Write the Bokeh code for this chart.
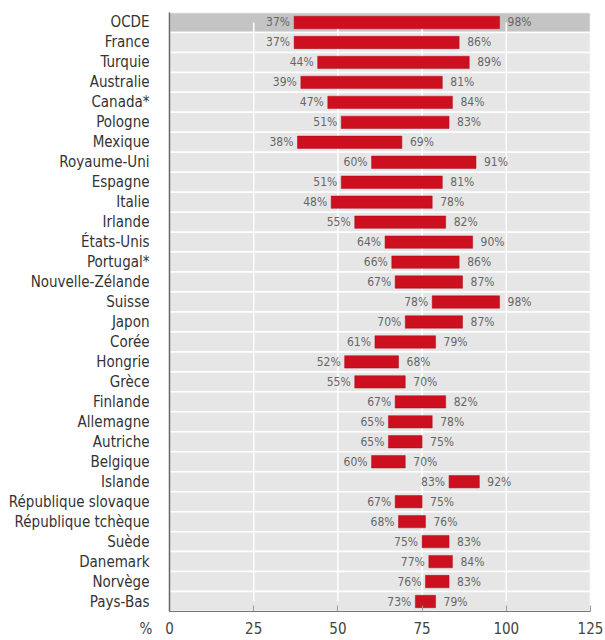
from bokeh.plotting import figure
from bokeh.models import FactorRange, Range1d, FixedTicker, ColumnDataSource
from bokeh.core.properties import value
from bokeh.embed import file_html
from bokeh.resources import INLINE

countries = ["OCDE", "France", "Turquie", "Australie", "Canada*", "Pologne", "Mexique",
             "Royaume-Uni", "Espagne", "Italie", "Irlande", "États-Unis", "Portugal*",
             "Nouvelle-Zélande", "Suisse", "Japon", "Corée", "Hongrie", "Grèce", "Finlande",
             "Allemagne", "Autriche", "Belgique", "Islande", "République slovaque",
             "République tchèque", "Suède", "Danemark", "Norvège", "Pays-Bas"]
low = [37, 37, 44, 39, 47, 51, 38, 60, 51, 48, 55, 64, 66, 67, 78, 70, 61, 52, 55, 67,
       65, 65, 60, 83, 67, 68, 75, 77, 76, 73]
high = [98, 86, 89, 81, 84, 83, 69, 91, 81, 78, 82, 90, 86, 87, 98, 87, 79, 68, 70, 82,
        78, 75, 70, 92, 75, 76, 83, 84, 83, 79]
x_ticks = [0, 25, 50, 75, 100, 125]
x_max = 125
unit_label = "%"

FONT = "Liberation Sans Narrow, Arial Narrow, DejaVu Sans Condensed, sans-serif"

p = figure(width=605, height=640, output_backend="svg", toolbar_location=None,
           y_range=FactorRange(factors=list(reversed(countries)), range_padding=0),
           x_range=Range1d(0, x_max),
           min_border_left=169, min_border_right=15, min_border_top=12, min_border_bottom=28)
p.outline_line_color = None
p.background_fill_color = "white"
p.grid.visible = False

bg_colors = ["#c4c4c4" if c == "OCDE" else "#e6e6e6" for c in countries]
bg = ColumnDataSource(dict(y=countries, right=[x_max] * len(countries), color=bg_colors))
p.hbar(y="y", left=0, right="right", height=1, source=bg, fill_color="color",
       line_color="white", line_width=1.5)

grid_x = [t for t in x_ticks if 0 < t < x_max]
p.segment(x0=grid_x, x1=grid_x, y0=[countries[0]] * len(grid_x), y1=[countries[-1]] * len(grid_x),
          line_color="white", line_width=1.5)

src = ColumnDataSource(dict(y=countries, low=low, high=high,
                            lt=[f"{v}%" for v in low], ht=[f"{v}%" for v in high]))
p.hbar(y="y", left="low", right="high", height=0.62, source=src,
       fill_color="#cc1020", line_color="#b00c18", line_width=0.5)
p.text(x="low", y="y", text="lt", source=src, text_align="right", text_baseline="middle",
       x_offset=-4, text_font=value(FONT), text_font_size="12px", text_color="#666666")
p.text(x="high", y="y", text="ht", source=src, text_align="left", text_baseline="middle",
       x_offset=8, text_font=value(FONT), text_font_size="12px", text_color="#666666")

xa = p.xaxis[0]
xa.ticker = FixedTicker(ticks=x_ticks)
NB = "\u00a0"
# the unit sign sits on the tick-label row, left of the "0"
xa.major_label_overrides = {0: unit_label + NB * 3 + "0" + NB * 6}
xa.major_tick_in = 6
xa.major_tick_out = 0
xa.minor_tick_line_color = None
xa.axis_line_color = "#777777"
xa.major_tick_line_color = "#999999"
xa.major_label_text_font = FONT
xa.major_label_text_font_size = "15px"
xa.major_label_text_color = "#444444"
xa.major_label_standoff = 8

ya = p.yaxis[0]
ya.major_tick_line_color = None
ya.minor_tick_line_color = None
ya.axis_line_color = "#666666"
ya.axis_line_width = 1.5
ya.major_label_text_font = FONT
ya.major_label_text_font_size = "15px"
ya.major_label_text_color = "#333333"
ya.major_label_standoff = 14

open("out.html", "w").write(file_html(p, INLINE))
